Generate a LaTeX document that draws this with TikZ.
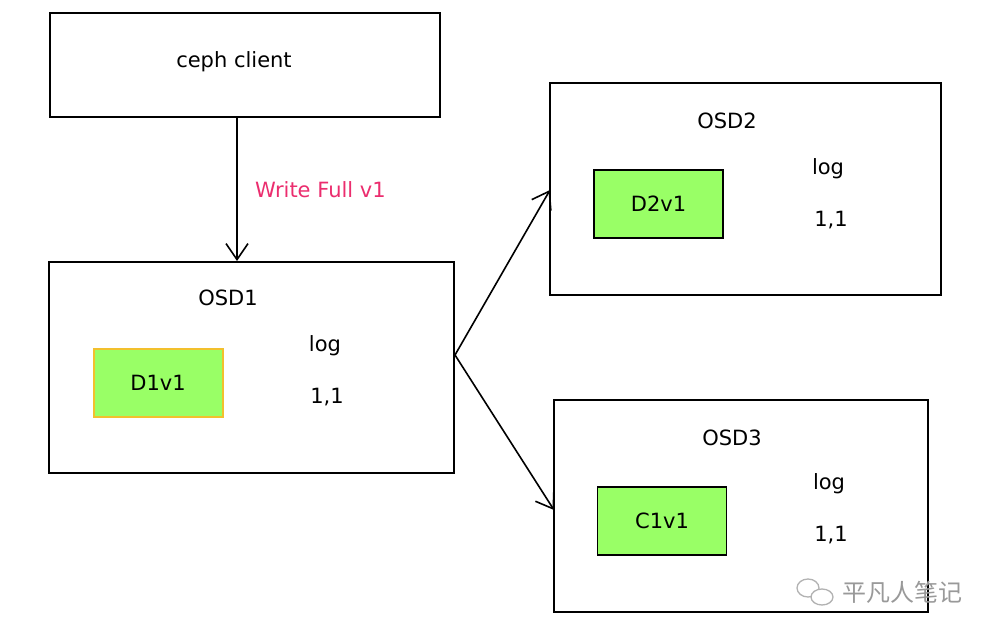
\documentclass[tikz,border=0pt]{standalone}
\usepackage{fontspec}
\setmainfont{DejaVu Sans}
\newfontfamily\cjk{Noto Sans CJK SC}
\usetikzlibrary{positioning, arrows.meta}
\definecolor{datagreen}{RGB}{153,255,102}
\definecolor{writepink}{RGB}{235,45,110}
\definecolor{edgeyellow}{RGB}{242,192,45}
\tikzset{
    box/.style={rectangle, draw=black, line width=2pt, fill=white, inner sep=0pt},
    data/.style={rectangle, draw=black, line width=1.6pt, fill=datagreen, inner sep=0pt, minimum width=129pt, minimum height=68pt, font=\fontsize{21}{23}\selectfont},
    label/.style={font=\fontsize{21}{23}\selectfont, inner sep=0pt},
    line/.style={-{Straight Barb[length=16pt, width=22pt]}, line width=1.6pt, black}
}

\begin{document}
\begin{tikzpicture}[x=1pt, y=-1pt]
        	\useasboundingbox (0,0) rectangle (983,634);
        	% client
        	\node (client) [box, minimum width=390pt, minimum height=104pt] at (245,65) {};
        	\node (clientt) [label] at (234,62) {ceph client};
        	
        	% OSD1
        	\node (osd1) [box, minimum width=405pt, minimum height=211pt] at (251.5,367.5) {};
        	\node (osd1t) [label] at (228,298) {OSD1};
        	\node (d1) [data, draw=edgeyellow, line width=2pt] at (158,382.5) {D1v1};
        	\node (log1) [label] at (325,346) {log};
        	\node (ver1) [label] at (327,397) {1,1};
        	
        	% OSD2
        	\node (osd2) [box, minimum width=391pt, minimum height=212pt] at (745.5,189) {};
        	\node (osd2t) [label] at (727,121) {OSD2};
        	\node (d2) [data] at (658.5,204) {D2v1};
        	\node (log2) [label] at (828,169) {log};
        	\node (ver2) [label] at (831,220) {1,1};
        	
        	% OSD3
        	\node (osd3) [box, minimum width=374pt, minimum height=212pt] at (741,506) {};
        	\node (osd3t) [label] at (732,438) {OSD3};
        	\node (c1) [data] at (662,521) {C1v1};
        	\node (log3) [label] at (829,484) {log};
        	\node (ver3) [label] at (831,535) {1,1};
        	
        	% arrows
        	\coordinate (fork) at (455,355);
        	\coordinate (in2) at (550,190);
        	\coordinate (in3) at (554,510);
        	\draw[line] (client.south -| 237,0) -- (osd1.north -| 237,0);
        	\node (write) [label, text=writepink, anchor=west] at (255,190) {Write Full v1};
        	\draw[line] (fork) -- (in2);
        	\draw[line] (fork) -- (in3);
        	
        	% watermark
        	\draw[gray!60, line width=1.3pt] (808,588) ellipse (11 and 9);
        	\draw[gray!60, line width=1.3pt, fill=white] (822,597) ellipse (11 and 8);
        	\node (mark) [inner sep=0pt, text=gray!80, font=\cjk\fontsize{24}{26}\selectfont] at (902,592) {平凡人笔记};
        \end{tikzpicture}
\end{document}
